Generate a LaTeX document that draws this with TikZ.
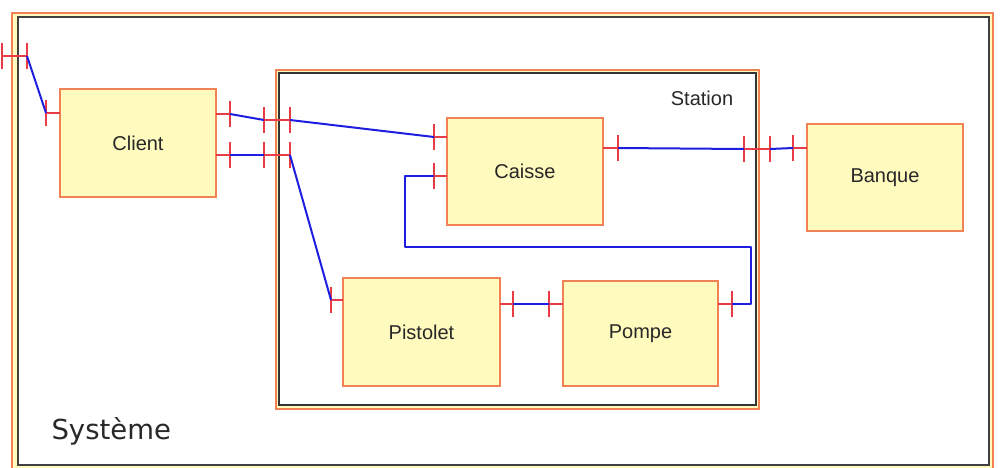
\documentclass[tikz,border=0pt]{standalone}
\usepackage{fontspec}
\setmainfont{Liberation Sans}
\newfontfamily\djv{DejaVu Sans}
\definecolor{frameorange}{RGB}{240,130,85}
\definecolor{boxfill}{RGB}{255,250,190}
\definecolor{portred}{RGB}{232,60,70}
\definecolor{wireblue}{RGB}{30,30,225}
\definecolor{txt}{RGB}{40,40,40}
\begin{document}
\begin{tikzpicture}[x=1pt,y=-1pt,
  block/.style={draw=frameorange,line width=1.8pt,fill=boxfill,inner sep=0pt,
     font=\fontsize{20}{24}\selectfont,text=txt},
  stub/.style={draw=portred,line width=1.4pt},
  wire/.style={draw=wireblue,line width=2pt,line join=round},
  tick/.style={draw=portred,line width=1.4pt}
]
\useasboundingbox (0,0) rectangle (1004,467);
% system frame
\draw[frameorange,line width=2pt,fill=boxfill] (12,13) rectangle (993,472);
\draw[black!75,line width=1.5pt,fill=white] (18,17) rectangle (989,465);
\node[anchor=west,font=\djv\fontsize{27.5}{32}\selectfont,text=txt] (sys) at (48,431) {Système};
% station frame
\draw[frameorange,line width=2pt,fill=boxfill] (276,70) rectangle (759,409);
\draw[black!80,line width=1.5pt,fill=white] (279,73) rectangle (756,405);
\node[font=\fontsize{20}{24}\selectfont,text=txt] (stlabel) at (702,98) {Station};
% blocks
\node[block,minimum width=156pt,minimum height=108pt] (client) at (138,143) {Client};
\node[block,minimum width=156pt,minimum height=107pt] (caisse) at (525,171.5) {Caisse};
\node[block,minimum width=156pt,minimum height=107pt] (banque) at (885,177.5) {Banque};
\node[block,minimum width=157pt,minimum height=108pt] (pistolet) at (421.5,332) {Pistolet};
\node[block,minimum width=155pt,minimum height=105pt] (pompe) at (640.5,333.5) {Pompe};
% port coordinates
\coordinate (sA) at (2,56);   \coordinate (sB) at (27,56);
\coordinate (cL) at (46,113); \coordinate (cLe) at (60,113);
\coordinate (cU) at (230,114); \coordinate (cUe) at (216,114);
\coordinate (cD) at (230,155); \coordinate (cDe) at (216,155);
\coordinate (stU1) at (264,120); \coordinate (stU2) at (290,120);
\coordinate (stD1) at (264,155); \coordinate (stD2) at (290,155);
\coordinate (kU) at (434,137); \coordinate (kUe) at (447,137);
\coordinate (kD) at (434,176); \coordinate (kDe) at (447,176);
\coordinate (kR) at (618,148); \coordinate (kRe) at (603,148);
\coordinate (stR1) at (744,149); \coordinate (stR2) at (770,149);
\coordinate (bL) at (793,148); \coordinate (bLe) at (807,148);
\coordinate (pL) at (331,300); \coordinate (pLe) at (343,300);
\coordinate (pR) at (513,304); \coordinate (pRe) at (500,304);
\coordinate (oL) at (549,304); \coordinate (oLe) at (563,304);
\coordinate (oR) at (732,304); \coordinate (oRe) at (718,304);
% red stubs
\foreach \a/\b in {sA/sB,cL/cLe,cUe/cU,cDe/cD,stU1/stU2,stD1/stD2,kU/kUe,kD/kDe,kRe/kR,stR1/stR2,bL/bLe,pL/pLe,pRe/pR,oL/oLe,oRe/oR}
  \draw[stub] (\a) -- (\b);
% ticks
\foreach \p in {sA,sB,cL,cU,cD,stU1,stU2,stD1,stD2,kU,kD,kR,stR1,stR2,bL,pL,pR,oL,oR}
  \draw[tick] ([yshift=-13pt]\p) -- ([yshift=13pt]\p);
% blue wires
\draw[wire] (sB) -- (cL);
\draw[wire] (cU) -- (stU1);
\draw[wire] (stU2) -- (kU);
\draw[wire] (cD) -- (stD1);
\draw[wire] (stD2) -- (pL);
\draw[wire] (kR) -- (stR1);
\draw[wire] (stR2) -- (bL);
\draw[wire] (pR) -- (oL);
\draw[wire] (kD) -- (405,176) -- (405,247) -- (751,247) -- (751,304) -- (oR);
\end{tikzpicture}
\end{document}
